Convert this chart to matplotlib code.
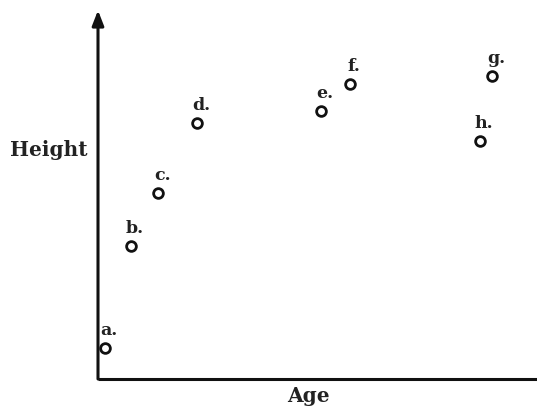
import matplotlib.pyplot as plt

labels = ["a.", "b.", "c.", "d.", "e.", "f.", "g.", "h."]
age = [0.16, 0.75, 1.37, 2.26, 5.08, 5.74, 8.97, 8.70]
height = [0.85, 3.64, 5.10, 7.01, 7.34, 8.08, 8.30, 6.52]

plt.rcParams['font.family'] = ['DejaVu Serif']

fig = plt.figure(figsize=(5.37, 4.10), dpi=100)
ax = fig.add_axes([98/537, 30/410, 439/537, 365/410])
ax.set_xlim(0, 10)
ax.set_ylim(0, 10)
ax.axis('off')

# axes drawn as arrows
ax.annotate("", xy=(0, 1.01), xytext=(0, 0), xycoords='axes fraction',
            arrowprops=dict(arrowstyle="-|>,head_length=0.9,head_width=0.35",
                            lw=2.2, color='#111111', shrinkA=0, shrinkB=0))
ax.plot([0, 1], [0, 0], transform=ax.transAxes, color='#111111', lw=2.2,
        clip_on=False, solid_capstyle='butt')

ax.plot(age, height, 'o', ms=7, mfc='white', mec='#111111', mew=2,
        clip_on=False)
for x, y, t in zip(age, height, labels):
    ax.annotate(t, (x, y), xytext=(3, 7), textcoords='offset points',
                ha='center', va='bottom', fontsize=12.5, fontweight='bold',
                color='#222222')

fig.text(49/537, 1 - 150/410, "Height", ha='center', va='center',
         fontsize=14.5, fontweight='bold', color='#222222')
fig.text(308/537, 1 - 396/410, "Age", ha='center', va='center',
         fontsize=14.5, fontweight='bold', color='#222222')

plt.savefig('out.png', dpi=100)
